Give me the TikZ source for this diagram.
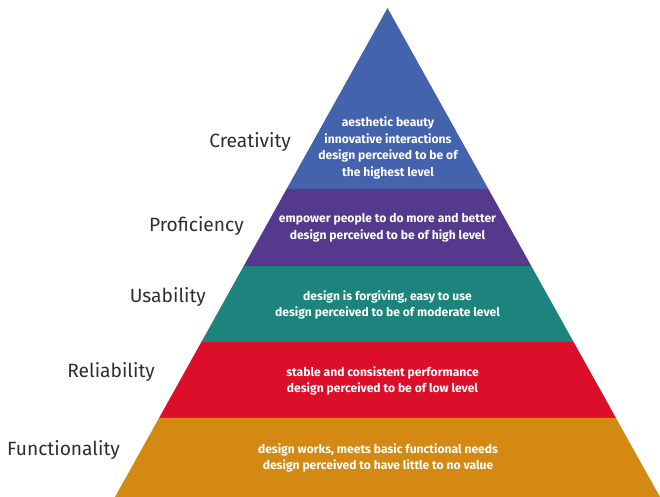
\documentclass[tikz,border=0pt]{standalone}
\usepackage{fontspec}
\setmainfont{Fira Sans}
\usepackage{tikz}
\usetikzlibrary{calc}

\definecolor{levelblue}{HTML}{4463AD}
\definecolor{levelpurple}{HTML}{55398D}
\definecolor{levelteal}{HTML}{1D837D}
\definecolor{levelred}{HTML}{DB0F29}
\definecolor{levelorange}{HTML}{D38912}
\definecolor{labelgrey}{HTML}{2E2E2E}

\tikzset{
  levelname/.style={anchor=base east, inner sep=0pt, text=labelgrey, font=\fontsize{19.2}{23}\selectfont},
  leveltext/.style={align=center, inner sep=0pt, text=white, font=\bfseries\fontsize{12.1}{16.8}\selectfont},
}

\begin{document}
\begin{tikzpicture}[x=1pt,y=-1pt]
\useasboundingbox (0,0) rectangle (660,497);
% apex and base corners
\coordinate (top) at (387.5,8);
\coordinate (bl) at (115,497);
\coordinate (br) at (660,497);
% band edges along the two sides
\foreach \t/\n in {0.370/1, 0.5276/2, 0.683/3, 0.8384/4} {
  \coordinate (l\n) at ($(top)!\t!(bl)$);
  \coordinate (r\n) at ($(top)!\t!(br)$);
}
\fill[levelblue] (top) -- (r1) -- (l1) -- cycle; % creativity
\fill[levelpurple] (l1) -- (r1) -- (r2) -- (l2) -- cycle; % proficiency
\fill[levelteal] (l2) -- (r2) -- (r3) -- (l3) -- cycle; % usability
\fill[levelred] (l3) -- (r3) -- (r4) -- (l4) -- cycle; % reliability
\fill[levelorange] (l4) -- (r4) -- (br) -- (bl) -- cycle; % functionality

\node[levelname] (creativity) at (291,147) {Creativity};
\node[levelname] (proficiency) at (244,231) {Proficiency};
\node[levelname] (usability) at (206,302) {Usability};
\node[levelname] (reliability) at (155,377) {Reliability};
\node[levelname] (functionality) at (120,455) {Functionality};

\node[leveltext] (creatext) at (388,148) {aesthetic beauty\\innovative interactions\\design perceived to be of\\the highest level};
\node[leveltext] (proftext) at (387.5,228) {empower people to do more and better\\design perceived to be of high level};
\node[leveltext] (usetext) at (387.5,305) {design is forgiving, easy to use\\design perceived to be of moderate level};
\node[leveltext] (reltext) at (382.5,381) {stable and consistent performance\\design perceived to be of low level};
\node[leveltext] (functext) at (378,458) {design works, meets basic functional needs\\design perceived to have little to no value};
\end{tikzpicture}
\end{document}
